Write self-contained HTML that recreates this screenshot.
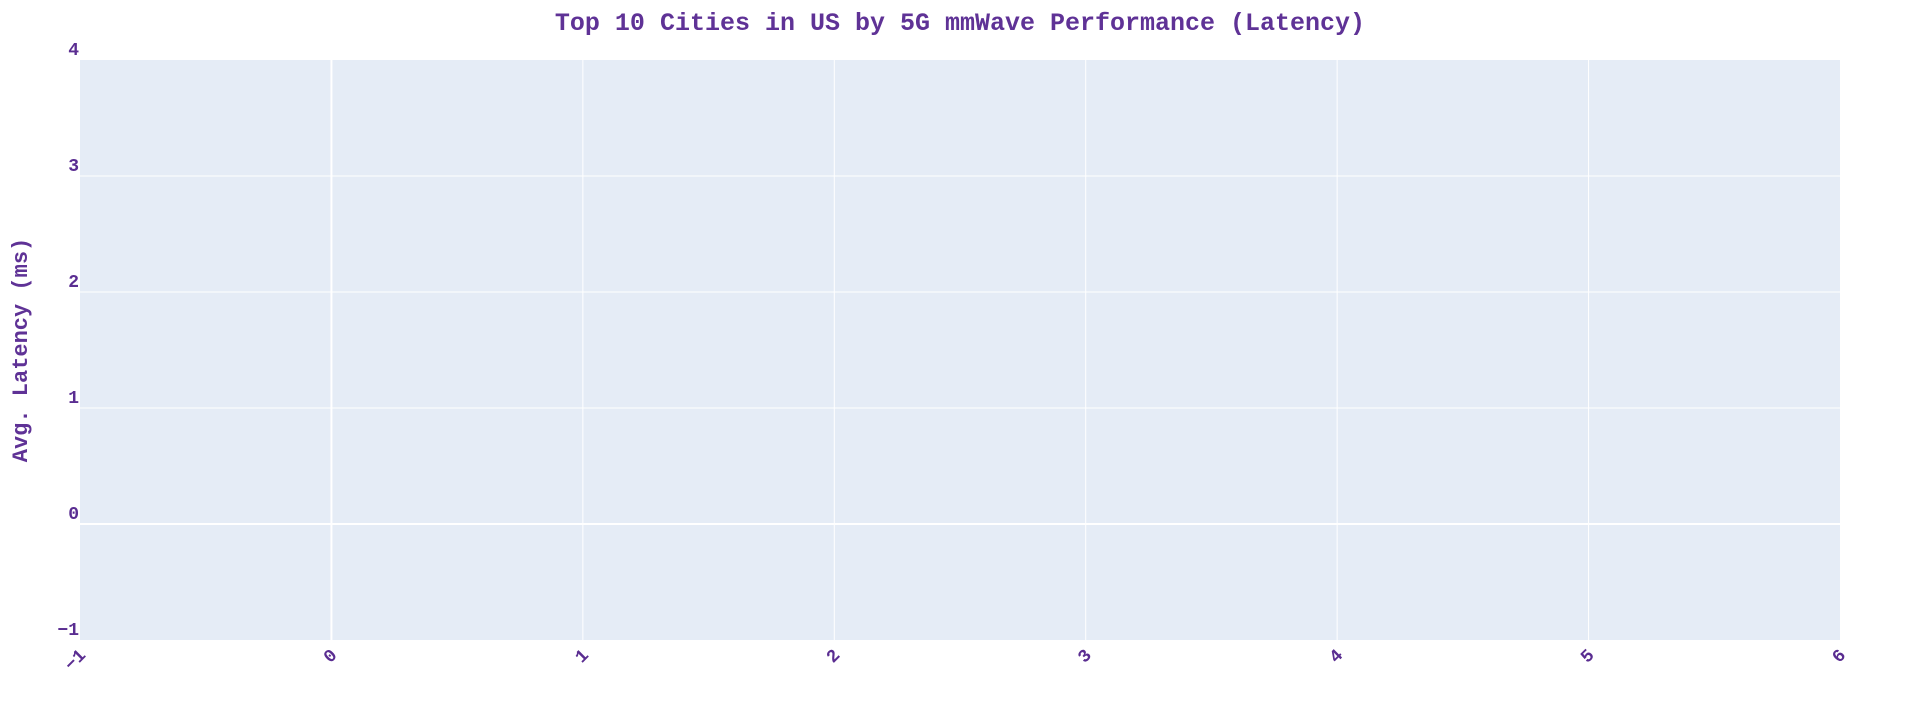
<!DOCTYPE html>
<html lang="en">
<head>
<meta charset="utf-8">
<title>Top 10 Cities in US by 5G mmWave Performance (Latency)</title>
<style>
html,body{margin:0;padding:0;background:#fff;width:1920px;height:720px;overflow:hidden}
svg{display:block}
text{font-family:"Liberation Mono",monospace;font-weight:bold}
</style>
</head>
<body>
<svg id="chart" width="1920" height="720" viewBox="0 0 1920 720" xmlns="http://www.w3.org/2000/svg">
  <rect x="0" y="0" width="1920" height="720" fill="#ffffff"/>
  <rect x="80" y="60" width="1760" height="580" fill="#E5ECF6"/>
  <g id="grid"></g>
  <g id="xticks"></g>
  <g id="yticks"></g>
  <text x="960" y="30" text-anchor="middle" font-size="25" fill="#5f3296">Top 10 Cities in US by 5G mmWave Performance (Latency)</text>
  <text transform="translate(27,350) rotate(-90)" text-anchor="middle" font-size="22" fill="#5f3296">Avg. Latency (ms)</text>
</svg>
<script>
const xTickValues = [-1, 0, 1, 2, 3, 4, 5, 6];
const yTickValues = [-1, 0, 1, 2, 3, 4];
const xDomain = [-1, 6];
const yDomain = [-1, 4];

const NS = 'http://www.w3.org/2000/svg';
const plot = { left: 80, right: 1840, top: 60, bottom: 640 };
const tickColor = '#5a2d91';

function xScale(v) {
  return plot.left + (v - xDomain[0]) / (xDomain[1] - xDomain[0]) * (plot.right - plot.left);
}
function yScale(v) {
  return plot.bottom - (v - yDomain[0]) / (yDomain[1] - yDomain[0]) * (plot.bottom - plot.top);
}
function tickText(v) {
  return String(v).replace('-', '\u2212');
}
function gridLine(x1, y1, x2, y2, isZero) {
  const line = document.createElementNS(NS, 'line');
  line.setAttribute('x1', x1);
  line.setAttribute('y1', y1);
  line.setAttribute('x2', x2);
  line.setAttribute('y2', y2);
  line.setAttribute('stroke', '#ffffff');
  line.setAttribute('stroke-width', isZero ? 2 : 1);
  return line;
}

const gridGroup = document.getElementById('grid');
const xGroup = document.getElementById('xticks');
const yGroup = document.getElementById('yticks');

xTickValues.forEach(function (v) {
  const x = xScale(v);
  if (v !== xDomain[0] && v !== xDomain[1]) {
    const line = gridLine(x, plot.top, x, plot.bottom, v === 0);
    
    
    gridGroup.appendChild(line);
  }
  const label = document.createElementNS(NS, 'text');
  
  
  label.setAttribute('transform', 'translate(' + (x + 6.5) + ',656) rotate(-45)');
  label.setAttribute('text-anchor', 'end');
  label.setAttribute('font-size', '18');
  label.setAttribute('fill', tickColor);
  label.textContent = tickText(v);
  xGroup.appendChild(label);
});

yTickValues.forEach(function (v) {
  const y = yScale(v);
  if (v !== yDomain[0] && v !== yDomain[1]) {
    const line = gridLine(plot.left, y, plot.right, y, v === 0);
    
    
    gridGroup.appendChild(line);
  }
  const label = document.createElementNS(NS, 'text');
  
  
  label.setAttribute('x', 79);
  label.setAttribute('y', y - 5.2);
  label.setAttribute('text-anchor', 'end');
  label.setAttribute('font-size', '18');
  label.setAttribute('fill', tickColor);
  label.textContent = tickText(v);
  yGroup.appendChild(label);
});
</script>
</body>
</html>
